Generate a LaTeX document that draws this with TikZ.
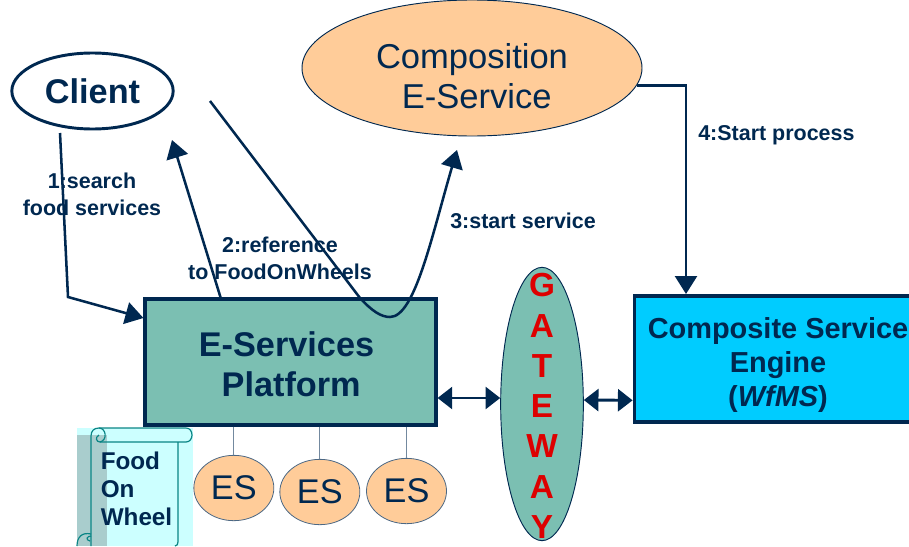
\documentclass[tikz,border=0pt]{standalone}
\usepackage{fontspec}
\setmainfont{Liberation Sans}
\usetikzlibrary{arrows.meta}
\usetikzlibrary{shapes.geometric}
\definecolor{navy}{HTML}{002850}
\definecolor{peach}{HTML}{FFCC99}
\definecolor{sea}{HTML}{7BBFB2}
\definecolor{skyfill}{HTML}{00CCFF}
\definecolor{scrollfill}{HTML}{CCFFFF}
\definecolor{scrollshade}{HTML}{A9CDCD}
\definecolor{scrollline}{HTML}{0A8585}
\definecolor{gatered}{HTML}{DD0000}

\begin{document}
\begin{tikzpicture}[x=0.75pt,y=-0.75pt,node distance=97.5pt,
                    flow/.style={-{Triangle[length=13.5pt,width=16.5pt]},draw=navy,line width=1.9pt},
                    bidir/.style={{Triangle[length=11pt,width=16.5pt]}-{Triangle[length=11pt,width=16.5pt]},draw=navy,line width=2.2pt},
                    main box/.style={rectangle,draw=navy,line width=2.6pt,inner sep=0pt},
                    box text/.style={text=navy,align=center,inner sep=0pt,font=\fontsize{25.7}{30}\selectfont\bfseries},
                    es node/.style={ellipse,draw=navy!70,fill=peach,line width=.6pt,minimum width=60pt,minimum height=49pt,inner sep=0pt,text=navy,font=\fontsize{25.7}{30}\selectfont},
                    step label/.style={text=navy,align=center,inner sep=0pt,font=\fontsize{16.1}{20.5}\selectfont\bfseries}]

  \useasboundingbox (0,0) rectangle (909,546);

  \node[ellipse,draw=navy,line width=2.2pt,fill=white,minimum width=121pt,minimum height=57pt,inner sep=0pt,text=navy,font=\fontsize{25.7}{30}\selectfont\bfseries] (client) at (92.5,91) {Client};
  \node[ellipse,draw=navy,line width=.7pt,fill=peach,minimum width=255pt,minimum height=102pt,inner sep=0pt] (composition) at (472,68) {};
  \node[box text,font=\fontsize{25.9}{30}\selectfont] (compositiontext) at (472,76) {Composition\\\hspace*{7pt}E-Service};
  \node[main box,fill=sea,minimum width=218pt,minimum height=94.5pt] (platform) at (290.5,362) {};
  \node[box text] (platformtext) at (286.5,364) {E-Services\\\hspace*{7pt}Platform};
  \node[main box,fill=skyfill,minimum width=217pt,minimum height=94.5pt] (engine) at (779,359) {};
  \node[box text,font=\fontsize{21.7}{25.5}\selectfont\bfseries] (enginetext) at (778,365) {Composite Service\\Engine\\(\textit{WfMS})};
  \node[ellipse,draw=navy,line width=.7pt,fill=sea,minimum width=62pt,minimum height=205pt,inner sep=0pt] (gateway) at (542,404) {};
  \node[box text,text=gatered,font=\fontsize{25}{30.2}\selectfont\bfseries] (gatewaytext) at (542,406) {G\\A\\T\\E\\W\\A\\Y};

  \node[es node,xshift=22pt] (es2) [below of=platform] {ES};
  \node[es node,yshift=3pt] (es1) [left of=es2,node distance=64.5pt] {ES};
  \node[es node,yshift=.75pt] (es3) [right of=es2,node distance=65pt] {ES};

  % scroll
  \fill[scrollfill] (77,428) rectangle (193,546);
  \fill[scrollshade] (77,435) rectangle (107,546);
  \draw[scrollline,line width=.9pt] (91,546) -- (91,436) .. controls (91,431) and (94,428) .. (99,428) -- (186,428)
     .. controls (194,428) and (194,442) .. (186,442) -- (100,442)
     .. controls (96,442) and (95,437) .. (99,435);
  \draw[scrollline,line width=.9pt] (99,428) .. controls (106,428) and (108,440) .. (100,442);
  \draw[scrollline,line width=.9pt] (178,442) -- (178,542) .. controls (178,544) and (177,546) .. (175,546);
  \draw[scrollline,line width=.9pt] (91,534) .. controls (82,532) and (77,537) .. (77,546);
  \draw[scrollline,line width=.9pt] (91,536) .. controls (87,536) and (85,540) .. (90,541);
  \node[text=navy,align=left,inner sep=0pt,anchor=north west,font=\fontsize{18.2}{21}\selectfont\bfseries] (foodonwheel) at (100.5,451.5) {Food\\On\\Wheel};

  \node[step label] (search) at (92,194) {1:search\\food services};
  \node[step label] (reference) at (280,258) {2:reference\\to FoodOnWheels};
  \node[step label,anchor=west] (start) at (450,221) {3:start service};
  \node[step label,anchor=west] (process) at (698,135.5) {4:Start process};

  \coordinate (searchstart) at (60,133);
  \coordinate (searchbend) at (68,297);
  \coordinate (refend) at (172,140);
  \coordinate (servicestart) at (210,101);
  \coordinate (serviceend) at (457,150);
  \coordinate (enginetop) at (686,294);

  \draw[flow] (searchstart) -- (searchbend) -- ([yshift=33pt]platform.west);
  \draw[flow] ([xshift=-52.5pt]platform.north) -- (refend);
  \draw[flow] (servicestart) -- (360,298) .. controls (372,311) and (381,317) .. (390,317) .. controls (415,317) and (432,235) .. (serviceend);
  \draw[flow] (composition.-6) -| (enginetop);
  \draw[bidir] ([yshift=-27pt]platform.east) -- ([yshift=4.5pt]gateway.west);
  \draw[bidir] ([yshift=3pt]gateway.east) -- ([yshift=-31pt]engine.west);

  \draw[navy!55,line width=.8pt] (platform.south -| es1) -- (es1);
  \draw[navy!55,line width=.8pt] (platform.south -| es2) -- (es2);
  \draw[navy!55,line width=.8pt] (platform.south -| es3) -- (es3);
\end{tikzpicture}
\end{document}
